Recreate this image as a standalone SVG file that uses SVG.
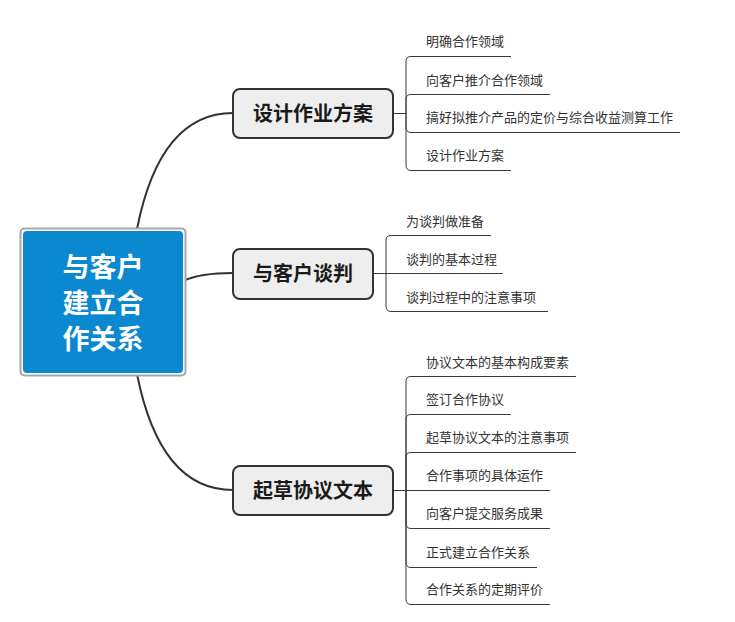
<svg xmlns="http://www.w3.org/2000/svg" width="735" height="622" viewBox="0 0 735 622">
<style>
.main{fill:none;stroke:#333;stroke-width:2}
.sub{fill:none;stroke:#3a3a3a;stroke-width:1}
.topic rect{fill:#EEEEEE;stroke:#333;stroke-width:2}
.topic text{font-family:"Noto Sans CJK SC","Microsoft YaHei",sans-serif;font-size:20px;font-weight:bold;fill:#1a1a1a;text-anchor:middle}
.item{font-family:"Noto Sans CJK SC","Microsoft YaHei",sans-serif;font-size:13px;fill:#333}
.center text{font-family:"Noto Sans CJK SC","Microsoft YaHei",sans-serif;font-size:27px;font-weight:bold;fill:#fff;text-anchor:middle}
</style>
<rect width="735" height="622" fill="#fff"/>
<g id="connectors">
<path class="main" d="M137 229 Q160 113 233 113"/>
<path class="main" d="M183 281 Q200 273 233 273"/>
<path class="main" d="M137 374 Q160 490 233 490"/>
<path class="sub" d="M393 113.5 H406 V61 Q406 56.5 411 56.5 H511"/>
<path class="sub" d="M393 113.5 H406 V99 Q406 94.5 411 94.5 H550"/>
<path class="sub" d="M393 113.5 H406 V127 Q406 132.5 411 132.5 H680"/>
<path class="sub" d="M393 113.5 H406 V165 Q406 170.5 411 170.5 H511"/>
<path class="sub" d="M373 273.5 H386 V240 Q386 235.5 391 235.5 H491"/>
<path class="sub" d="M373 273.5 H503"/>
<path class="sub" d="M373 273.5 H386 V306 Q386 311.5 391 311.5 H548"/>
<path class="sub" d="M393 490.5 H406 V381 Q406 376.5 411 376.5 H576"/>
<path class="sub" d="M393 490.5 H406 V419 Q406 414.5 411 414.5 H511"/>
<path class="sub" d="M393 490.5 H406 V457 Q406 452.5 411 452.5 H576"/>
<path class="sub" d="M393 490.5 H550"/>
<path class="sub" d="M393 490.5 H406 V523 Q406 528.5 411 528.5 H550"/>
<path class="sub" d="M393 490.5 H406 V562 Q406 567.5 411 567.5 H537"/>
<path class="sub" d="M393 490.5 H406 V599 Q406 604.5 411 604.5 H550"/>
</g>
<g id="center" class="center">
<rect x="20.5" y="228.5" width="165" height="147" rx="4" fill="#fff" stroke="#A8A8A8" stroke-width="2"/>
<rect x="23" y="231" width="160" height="142" rx="4" fill="#0A88D0"/>
<text x="103" y="277">与客户</text>
<text x="103" y="313">建立合</text>
<text x="103" y="349">作关系</text>
</g>
<g id="topic1" class="topic">
<rect x="233" y="89" width="160" height="49" rx="7"/>
<text x="313" y="121">设计作业方案</text>
</g>
<g id="topic2" class="topic">
<rect x="233" y="249" width="140" height="50" rx="7"/>
<text x="303" y="281">与客户谈判</text>
</g>
<g id="topic3" class="topic">
<rect x="233" y="466" width="160" height="49" rx="7"/>
<text x="313" y="498">起草协议文本</text>
</g>
<g id="items1">
<text class="item" x="426" y="46">明确合作领域</text>
<text class="item" x="426" y="85">向客户推介合作领域</text>
<text class="item" x="426" y="122">搞好拟推介产品的定价与综合收益测算工作</text>
<text class="item" x="426" y="160">设计作业方案</text>
</g>
<g id="items2">
<text class="item" x="406" y="226">为谈判做准备</text>
<text class="item" x="406" y="264">谈判的基本过程</text>
<text class="item" x="406" y="302">谈判过程中的注意事项</text>
</g>
<g id="items3">
<text class="item" x="426" y="367">协议文本的基本构成要素</text>
<text class="item" x="426" y="404">签订合作协议</text>
<text class="item" x="426" y="442">起草协议文本的注意事项</text>
<text class="item" x="426" y="480">合作事项的具体运作</text>
<text class="item" x="426" y="518">向客户提交服务成果</text>
<text class="item" x="426" y="557">正式建立合作关系</text>
<text class="item" x="426" y="594">合作关系的定期评价</text>
</g>
</svg>
